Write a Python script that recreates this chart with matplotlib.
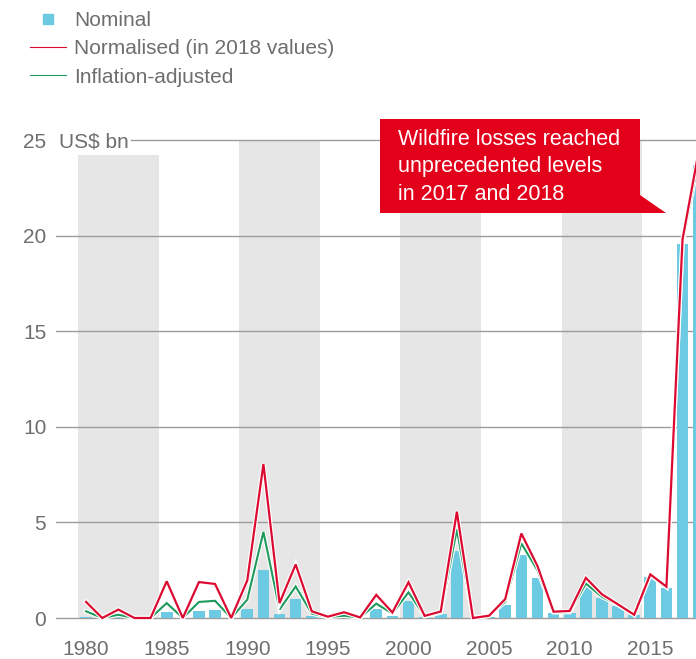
import matplotlib
matplotlib.use('Agg')
import matplotlib.pyplot as plt
from matplotlib.lines import Line2D
from matplotlib.patches import Polygon
import matplotlib.patheffects as pe

years = list(range(1980, 2019))
nominal = [0.04, 0.0, 0.04, 0.0, 0.0, 0.30, 0.0, 0.35, 0.40, 0.0,
           0.47, 2.49, 0.23, 0.98, 0.12, 0.02, 0.05, 0.01, 0.48, 0.12,
           0.90, 0.03, 0.19, 3.50, 0.0, 0.07, 0.70, 3.28, 2.10, 0.24,
           0.28, 1.60, 1.06, 0.64, 0.14, 2.14, 1.57, 19.58, 23.67]
normalised = [0.84, 0.0, 0.44, 0.0, 0.0, 1.92, 0.0, 1.88, 1.78, 0.0,
              1.97, 8.05, 0.78, 2.80, 0.35, 0.07, 0.30, 0.03, 1.21, 0.29,
              1.87, 0.11, 0.34, 5.56, 0.0, 0.12, 0.99, 4.42, 2.72, 0.33,
              0.37, 2.10, 1.24, 0.71, 0.17, 2.28, 1.64, 19.8, 24.4]
inflation = [0.35, 0.0, 0.17, 0.0, 0.0, 0.78, 0.0, 0.84, 0.90, 0.0,
             0.96, 4.50, 0.44, 1.65, 0.23, 0.05, 0.12, 0.02, 0.75, 0.24,
             1.34, 0.10, 0.28, 4.63, 0.0, 0.12, 0.85, 3.90, 2.50, 0.30,
             0.31, 1.80, 1.11, 0.68, 0.17, 2.25, 1.62, 19.6, 24.0]
band_starts = [1980, 1990, 2000, 2010]
xticks = [1980, 1985, 1990, 1995, 2000, 2005, 2010, 2015]
yticks = [0, 5, 10, 15, 20, 25]
series_labels = ['Nominal', 'Normalised (in 2018 values)', 'Inflation-adjusted']
annotation = 'Wildfire losses reached\nunprecedented levels\nin 2017 and 2018'
unit_label = 'US$ bn'

CYAN = '#6CCBE2'
RED = '#DC0A30'
GREEN = '#1E9A5C'
BOXRED = '#E2001A'
BAND = '#E6E6E6'
GRID = '#9C9C9C'
TXT = '#6E6E6E'

plt.rcParams['font.family'] = ['Liberation Sans', 'DejaVu Sans']

W, H = 696, 659
fig = plt.figure(figsize=(W / 100, H / 100), dpi=100)
x_left_px, x_right_px = 56, 696
y0_px, y25_px = 618, 140
ppu = (y0_px - y25_px) / 25.0
ylo, yhi = -0.3, 25.2
bottom_px = y0_px - ylo * ppu
top_px = y25_px - (yhi - 25) * ppu
ax = fig.add_axes([x_left_px / W, (H - bottom_px) / H,
                   (x_right_px - x_left_px) / W, (bottom_px - top_px) / H])
ppy = 16.12
x1980_px = 86.1
xlo = 1980 + (x_left_px - x1980_px) / ppy
xhi = 1980 + (x_right_px - x1980_px) / ppy
ax.set_xlim(xlo, xhi)
ax.set_ylim(ylo, yhi)

def px2x(px):
    return 1980 + (px - x1980_px) / ppy

def px2y(py):
    return (y0_px - py) / ppu

for i, b in enumerate(band_starts):
    top = 24.2 if i == 0 else 25
    ax.fill_between([b - 0.5, b + 4.5], 0, top, color=BAND, lw=0, zorder=0)

for t in yticks:
    if t == 25:
        ax.plot([px2x(131), xhi], [t, t], color=GRID, lw=1.0, zorder=1)
    else:
        ax.axhline(t, color=GRID, lw=1.0, zorder=1)

ax.bar(years, nominal, width=0.72, color=CYAN, zorder=2)
halo = [pe.Stroke(linewidth=3.2, foreground='white'), pe.Normal()]
ax.plot(years, inflation, color=GREEN, lw=1.5, zorder=3, path_effects=halo,
        solid_joinstyle='miter')
ax.plot(years, normalised, color=RED, lw=1.6, zorder=4, path_effects=halo,
        solid_joinstyle='miter')

for s in ax.spines.values():
    s.set_visible(False)
ax.set_xticks(xticks)
ax.set_yticks(yticks)
ax.set_yticklabels([str(t) for t in yticks])
ax.tick_params(axis='both', length=0, labelsize=15, labelcolor=TXT)
ax.tick_params(axis='x', pad=12)
ax.tick_params(axis='y', pad=7)
ax.patch.set_visible(False)

ax.text(px2x(59), 25, unit_label, ha='left', va='center_baseline',
        fontsize=15, color=TXT, zorder=5)

bx0, bx1 = px2x(380), px2x(640)
by0, by1 = px2y(213), px2y(119)
box = Polygon([(bx0, by0), (bx0, by1), (bx1, by1), (bx1, px2y(195)),
               (px2x(666), by0)], closed=True, facecolor=BOXRED,
              edgecolor='none', clip_on=False, zorder=6)
ax.add_patch(box)
ax.text(px2x(398), px2y(129), annotation, ha='left', va='top', fontsize=15.5,
        color='white', linespacing=1.4, zorder=7, clip_on=False)

handles = [Line2D([], [], marker='s', linestyle='none', color=CYAN, markersize=7),
           Line2D([], [], color=RED, lw=0.8),
           Line2D([], [], color=GREEN, lw=0.8)]
fig.legend(handles, series_labels, loc='upper left',
           bbox_to_anchor=(30 / W, 1 - 11 / H), frameon=False, fontsize=15,
           labelcolor=TXT, handlelength=1.75, handletextpad=0.35,
           labelspacing=0.45, borderpad=0, borderaxespad=0)

fig.savefig('out.png', dpi=100)
